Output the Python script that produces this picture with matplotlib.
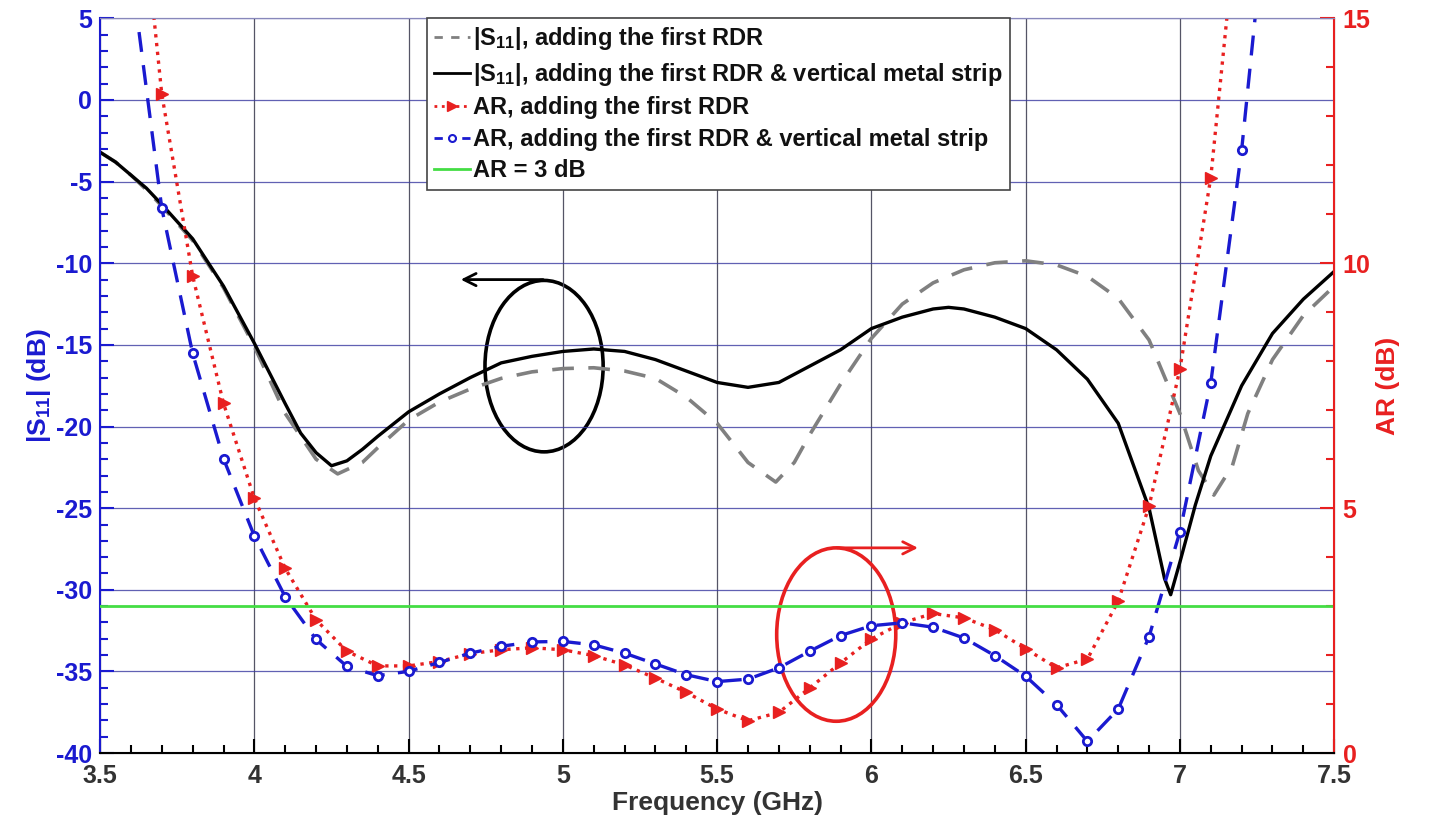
import matplotlib
matplotlib.use("Agg")
import matplotlib.pyplot as plt
from matplotlib.patches import Ellipse
from matplotlib.lines import Line2D

plt.rcParams['font.family'] = ['Liberation Sans', 'DejaVu Sans']
plt.rcParams['font.weight'] = 'bold'
plt.rcParams['axes.unicode_minus'] = False
plt.rcParams['mathtext.fontset'] = 'custom'
plt.rcParams['mathtext.rm'] = 'Liberation Sans:bold'
plt.rcParams['mathtext.it'] = 'Liberation Sans:bold'
plt.rcParams['mathtext.bf'] = 'Liberation Sans:bold'

# |S11| with the first RDR (grey dashed)
s11_rdr_freq = [3.5, 3.55, 3.6, 3.65, 3.7, 3.8, 3.9, 4.0, 4.1, 4.2, 4.27, 4.35, 4.4, 4.5, 4.6,
                4.7, 4.8, 4.9, 5.0, 5.1, 5.2, 5.3, 5.4, 5.5, 5.6, 5.69, 5.75, 5.8, 5.9, 6.0,
                6.1, 6.2, 6.3, 6.4, 6.5, 6.6, 6.7, 6.8, 6.9, 7.0, 7.06, 7.11, 7.17, 7.22,
                7.3, 7.4, 7.5]
s11_rdr = [-3.2, -3.8, -4.6, -5.5, -6.5, -8.6, -11.5, -15.1, -19.2, -22.0, -22.9, -22.2,
           -21.3, -19.6, -18.5, -17.7, -17.05, -16.65, -16.45, -16.4, -16.6, -17.05, -18.2,
           -19.8, -22.2, -23.4, -22.2, -20.5, -17.4, -14.6, -12.5, -11.2, -10.4, -9.97,
           -9.85, -10.1, -10.8, -12.15, -14.7, -19.2, -22.7, -24.2, -22.4, -19.2, -15.9,
           -13.2, -11.4]

# |S11| with the first RDR & vertical metal strip (black solid)
s11_strip_freq = [3.5, 3.55, 3.6, 3.65, 3.7, 3.8, 3.9, 4.0, 4.1, 4.15, 4.2, 4.25, 4.3, 4.35,
                  4.4, 4.5, 4.6, 4.7, 4.8, 4.9, 5.0, 5.1, 5.2, 5.3, 5.4, 5.5, 5.6, 5.7, 5.8,
                  5.9, 6.0, 6.1, 6.2, 6.25, 6.3, 6.4, 6.5, 6.6, 6.7, 6.8, 6.9, 6.95, 6.97,
                  7.0, 7.05, 7.1, 7.2, 7.3, 7.4, 7.5]
s11_strip = [-3.2, -3.8, -4.6, -5.4, -6.4, -8.5, -11.4, -14.9, -18.6, -20.4, -21.6, -22.4,
             -22.1, -21.4, -20.6, -19.1, -18.0, -17.0, -16.1, -15.7, -15.4, -15.25, -15.4,
             -15.9, -16.6, -17.3, -17.6, -17.3, -16.3, -15.3, -14.0, -13.3, -12.8, -12.7,
             -12.8, -13.3, -14.0, -15.3, -17.1, -19.8, -25.0, -29.3, -30.3, -28.3, -24.8,
             -21.8, -17.5, -14.3, -12.2, -10.5]

# AR with the first RDR (red dotted, triangles)
ar_rdr_freq = [3.6, 3.7, 3.8, 3.9, 4.0, 4.1, 4.2, 4.3, 4.4, 4.5, 4.6, 4.7, 4.8, 4.9, 5.0,
               5.1, 5.2, 5.3, 5.4, 5.5, 5.6, 5.7, 5.8, 5.9, 6.0, 6.1, 6.2, 6.3, 6.4, 6.5,
               6.6, 6.7, 6.8, 6.9, 7.0, 7.1, 7.2]
ar_rdr = [19.6, 13.45, 9.74, 7.14, 5.2, 3.77, 2.72, 2.08, 1.78, 1.78, 1.87, 2.03, 2.11, 2.15,
          2.11, 1.99, 1.80, 1.53, 1.24, 0.90, 0.66, 0.83, 1.33, 1.84, 2.33, 2.66, 2.85, 2.76,
          2.52, 2.13, 1.74, 1.92, 3.10, 5.04, 7.84, 11.75, 18.0]

# AR with the first RDR & vertical metal strip (blue dashed, circles)
ar_strip_freq = [3.6, 3.7, 3.8, 3.9, 4.0, 4.1, 4.2, 4.3, 4.4, 4.5, 4.6, 4.7, 4.8, 4.9, 5.0,
                 5.1, 5.2, 5.3, 5.4, 5.5, 5.6, 5.7, 5.8, 5.9, 6.0, 6.1, 6.2, 6.3, 6.4, 6.5,
                 6.6, 6.7, 6.8, 6.9, 7.0, 7.1, 7.2, 7.3]
ar_strip = [16.0, 11.12, 8.16, 6.01, 4.43, 3.19, 2.32, 1.77, 1.58, 1.67, 1.85, 2.04, 2.18,
            2.27, 2.28, 2.21, 2.04, 1.82, 1.60, 1.46, 1.51, 1.74, 2.08, 2.40, 2.60, 2.66,
            2.57, 2.35, 1.99, 1.57, 0.99, 0.24, 0.90, 2.38, 4.52, 7.56, 12.31, 18.5]

ar_limit = 3

labels = [r'|S$_{11}$|, adding the first RDR',
          r'|S$_{11}$|, adding the first RDR & vertical metal strip',
          'AR, adding the first RDR',
          'AR, adding the first RDR & vertical metal strip',
          'AR = 3 dB']

blue = '#1a1ad0'
red = '#e82020'
grey_txt = '#333333'

fig = plt.figure(figsize=(14.3, 8.34), dpi=100)
ax = fig.add_axes([0.070, 0.097, 0.863, 0.881])
ax2 = ax.twinx()

ax.plot(s11_rdr_freq, s11_rdr, color='#808080', lw=2.6, dashes=(6, 4))
ax.plot(s11_strip_freq, s11_strip, color='black', lw=2.4)

ax2.plot(ar_rdr_freq, ar_rdr, color=red, lw=2.4, ls=':', marker='>', ms=8, mec=red, mfc=red)
ax2.plot(ar_strip_freq, ar_strip, color=blue, lw=2.4, dashes=(6, 4), marker='o', ms=6,
         mec=blue, mfc='white', mew=2)
ax2.axhline(ar_limit, color='#44dd44', lw=2)

ax.set_xlim(3.5, 7.5)
ax.set_ylim(-40, 5)
ax2.set_ylim(0, 15)

ax.set_xticks([3.5, 4, 4.5, 5, 5.5, 6, 6.5, 7, 7.5])
ax.set_xticklabels(['3.5', '4', '4.5', '5', '5.5', '6', '6.5', '7', '7.5'])
ax.set_xticks([3.5 + 0.1 * i for i in range(41)], minor=True)
ax.set_yticks([-40, -35, -30, -25, -20, -15, -10, -5, 0, 5])
ax.set_yticks(list(range(-40, 6)), minor=True)
ax2.set_yticks([0, 5, 10, 15])
ax2.set_yticks(list(range(0, 16)), minor=True)

ax.grid(True, axis='x', color='#555566', lw=0.9)
ax.grid(True, axis='y', color='#3a3aa0', lw=0.9, alpha=0.8)

ax.tick_params(axis='x', which='both', direction='in', colors='black', labelcolor=grey_txt,
               labelsize=18, pad=8)
ax.tick_params(axis='x', which='major', length=10, width=1.5)
ax.tick_params(axis='x', which='minor', length=6, width=1.5)
ax.tick_params(axis='y', which='both', direction='in', colors=blue, labelsize=18, pad=6)
ax.tick_params(axis='y', which='major', length=10, width=1.5)
ax.tick_params(axis='y', which='minor', length=6, width=1.5)
ax2.tick_params(axis='y', which='both', direction='in', colors=red, labelsize=18, pad=6)
ax2.tick_params(axis='y', which='major', length=10, width=1.5)
ax2.tick_params(axis='y', which='minor', length=6, width=1.5)

ax.spines['left'].set_color(blue)
ax.spines['left'].set_linewidth(1.5)
ax2.spines['left'].set_visible(False)
ax2.spines['right'].set_color(red)
ax2.spines['right'].set_linewidth(1.5)
ax2.spines['bottom'].set_color('black')
ax2.spines['bottom'].set_linewidth(1.5)
ax2.spines['top'].set_color('#8888bb')
ax.spines['top'].set_color('#8888bb')

ax.set_xlabel('Frequency (GHz)', fontsize=19, fontweight='bold', color=grey_txt, labelpad=2)
ax.set_ylabel(r'|S$_{11}$| (dB)', fontsize=19, fontweight='bold', color=blue, labelpad=2)
ax2.set_ylabel('AR (dB)', fontsize=19, fontweight='bold', color=red, labelpad=4)

# annotation ellipses with arrows
ax.add_patch(Ellipse((4.939, -16.3), 0.383, 10.5, fill=False, ec='black', lw=2.6))
ax.annotate('', xy=(4.66, -11.0), xytext=(4.945, -11.0),
            arrowprops=dict(arrowstyle='->', color='black', lw=2, mutation_scale=22))
ax2.add_patch(Ellipse((5.886, 2.42), 0.386, 3.54, fill=False, ec=red, lw=2.6))
ax2.annotate('', xy=(6.16, 4.19), xytext=(5.88, 4.19),
             arrowprops=dict(arrowstyle='->', color=red, lw=2, mutation_scale=22))

handles = [Line2D([], [], color='#808080', lw=2, dashes=(3, 3)),
           Line2D([], [], color='black', lw=2),
           Line2D([], [], color=red, lw=2, ls=':', marker='>', ms=7, mfc=red, mec=red),
           Line2D([], [], color=blue, lw=2, dashes=(3, 2), marker='o', ms=5, mfc='white',
                  mec=blue, mew=1.5),
           Line2D([], [], color='#44dd44', lw=2)]
leg = ax2.legend(handles, labels, loc='upper left', bbox_to_anchor=(0.265, 1.0),
                 borderaxespad=0, fontsize=17, handlelength=1.5, handletextpad=0.15,
                 labelspacing=0.36, borderpad=0.3, fancybox=False, framealpha=1,
                 edgecolor='#444444')
leg.get_frame().set_linewidth(1.2)
for t in leg.get_texts():
    t.set_color('#111111')

plt.savefig('out.png', dpi=100)
